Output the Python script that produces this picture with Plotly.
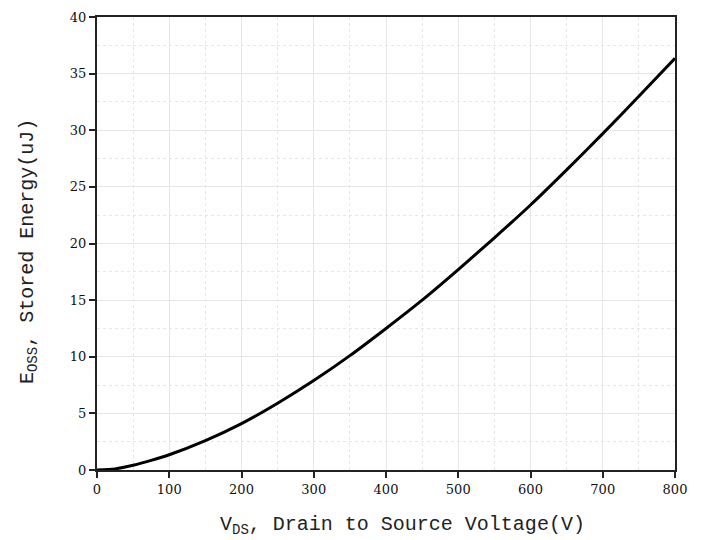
import plotly.graph_objects as go

vds = [0, 25, 50, 75, 100, 150, 200, 250, 300, 350, 400, 450, 500, 550, 600, 650, 700, 750, 800]
eoss = [0, 0.1, 0.42, 0.85, 1.35, 2.6, 4.1, 5.9, 7.9, 10.1, 12.5, 15.0, 17.7, 20.5, 23.4, 26.5, 29.7, 33.0, 36.35]

x_ticks = [0, 100, 200, 300, 400, 500, 600, 700, 800]
y_ticks = [0, 5, 10, 15, 20, 25, 30, 35, 40]

x_title = "V<sub>DS</sub>, Drain to Source Voltage(V)"
y_title = "E<sub>OSS</sub>, Stored Energy(uJ)"

fig = go.Figure()
fig.add_trace(go.Scatter(x=vds, y=eoss, mode="lines", line=dict(color="black", width=3, shape="spline", smoothing=0.8),
                         showlegend=False, hoverinfo="skip"))

tick_font = dict(family="DejaVu Serif", size=13, color="#111")
title_font = dict(family="Liberation Mono", size=20, color="#222")

fig.update_layout(
    width=705, height=540,
    margin=dict(l=89, r=38, t=2, b=78),
    paper_bgcolor="white", plot_bgcolor="white",
    xaxis=dict(range=[0, 800], tickvals=x_ticks, ticks="outside", ticklen=6, tickwidth=2, tickcolor="#222",
               showline=True, linecolor="#222", linewidth=2, mirror=True, ticklabeloverflow="allow",
               showgrid=True, gridcolor="#e6e6e6", gridwidth=1, zeroline=False,
               minor=dict(dtick=50, showgrid=True, gridcolor="#e6e6e6", griddash="dot", gridwidth=1),
               tickfont=tick_font),
    yaxis=dict(range=[0, 40], tickvals=y_ticks, ticks="outside", ticklen=6, tickwidth=2, tickcolor="#222",
               showline=True, linecolor="#222", linewidth=2, mirror=True, ticklabeloverflow="allow",
               showgrid=True, gridcolor="#e6e6e6", gridwidth=1, zeroline=False,
               minor=dict(dtick=2.5, showgrid=True, gridcolor="#e6e6e6", griddash="dot", gridwidth=1),
               tickfont=tick_font),
    annotations=[
        dict(text=x_title, xref="paper", yref="paper", x=0.528, y=0, yshift=-55,
             xanchor="center", yanchor="middle", showarrow=False, font=title_font),
        dict(text=y_title, xref="paper", yref="paper", x=0, y=0.481, xshift=-69,
             xanchor="center", yanchor="middle", showarrow=False, font=title_font, textangle=-90),
    ],
)

fig.write_html("out.html")
